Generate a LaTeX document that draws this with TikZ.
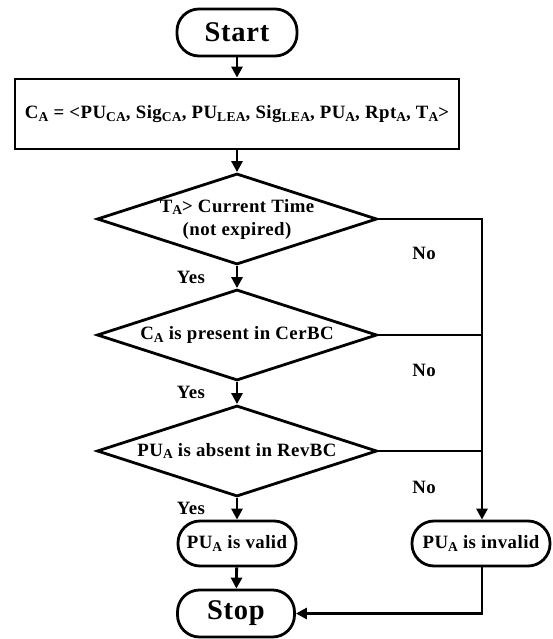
\documentclass[tikz,border=0pt]{standalone}
\usepackage{fontspec}
\usepackage{graphicx}
\setmainfont{Liberation Serif}[LetterSpace=2.5]
\usetikzlibrary{arrows.meta,shapes.geometric}

% lowered, reduced-size subscript for the labels
\newcommand{\subt}[1]{\raisebox{-0.3ex}{\scalebox{0.72}{#1}}}

\tikzset{
  x=1pt, y=-1pt,
  every node/.style={font=\bfseries\fontsize{18.8}{23}\selectfont},
  line/.style={line width=2.8pt},
  flow/.style={line width=2.8pt, -{Triangle[length=11pt,width=11pt]}},
  term/.style={draw, line width=2.8pt, rectangle, rounded corners=22pt, inner sep=0pt},
  proc/.style={draw, line width=2.8pt, rectangle, inner sep=0pt},
  decision/.style={draw, line width=2.8pt, diamond, aspect=3.08, inner sep=0pt,
                   minimum width=280pt, minimum height=91pt, align=center},
  tag/.style={inner sep=0pt},
  big/.style={font=\bfseries\fontsize{28.5}{30}\selectfont},
}

\begin{document}
\begin{tikzpicture}
\useasboundingbox (0,0) rectangle (553,639);

\node[term, big, minimum width=120pt, minimum height=47pt] (start) at (237,32.5) {Start};
\node[proc, minimum width=444pt, minimum height=70pt] (cert) at (237,114)
  {C\subt{A} = <PU\subt{CA}, Sig\subt{CA}, PU\subt{LEA}, Sig\subt{LEA}, PU\subt{A}, Rpt\subt{A}, T\subt{A}>};
\node[decision] (d1) at (237,219) {T\subt{A}> Current Time\\(not expired)};
\node[decision] (d2) at (237,335) {C\subt{A} is present in CerBC};
\node[decision] (d3) at (237,451) {PU\subt{A} is absent in RevBC};
\node[term, minimum width=118pt, minimum height=45pt] (valid) at (237,543.5) {PU\subt{A} is valid};
\node[term, minimum width=138pt, minimum height=45pt] (invalid) at (481,543.5) {PU\subt{A} is invalid};
\node[term, big, minimum width=117pt, minimum height=47pt] (stop) at (236,613.5) {Stop};

\coordinate (jr) at (482,219);

\draw[flow] (start) -- (cert);
\draw[flow] (cert) -- (d1);
\draw[flow] (d1) -- (d2);
\draw[flow] (d2) -- (d3);
\draw[flow] (d3) -- (valid);
\draw[flow] (valid) -- (stop);

\draw[flow] (d1.east) -- (jr) -- (jr |- invalid.north);
\draw[line] (d2.east) -- (jr |- d2.east);
\draw[line] (d3.east) -- (jr |- d3.east);
\draw[flow] (jr |- invalid.south) -- (jr |- stop.east) -- (stop.east);

\node[tag] (y1) at (191,277) {Yes};
\node[tag] (y2) at (191,392) {Yes};
\node[tag] (y3) at (191,508) {Yes};
\node[tag] (n1) at (424,253) {No};
\node[tag] (n2) at (424,370) {No};
\node[tag] (n3) at (424,487) {No};
\end{tikzpicture}
\end{document}
